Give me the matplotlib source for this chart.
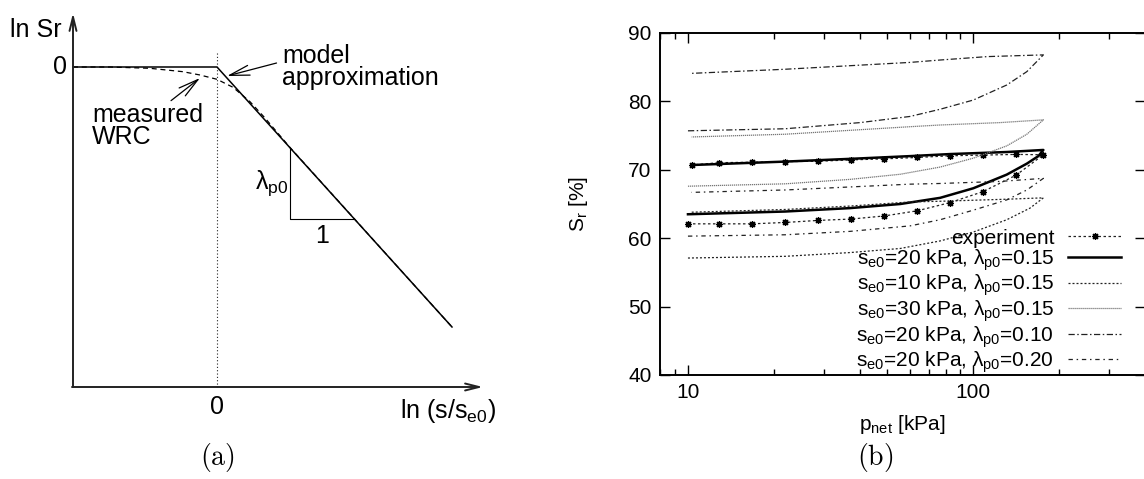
import numpy as np
import matplotlib
matplotlib.use("Agg")
import matplotlib.pyplot as plt

plt.rcParams['font.family'] = ['Liberation Sans', 'DejaVu Sans']
plt.rcParams['mathtext.fontset'] = 'custom'
plt.rcParams['mathtext.rm'] = 'Liberation Sans'
plt.rcParams['mathtext.it'] = 'Liberation Sans'
plt.rcParams['mathtext.bf'] = 'Liberation Sans:bold'
plt.rcParams['mathtext.default'] = 'rm'

# ---- panel (a): schematic, units: x = ln(s/se0), y = ln Sr ----
model_x = [-1.44, 0.0, 2.35]
model_y = [0.0, 0.0, -2.6]
wrc_x = [-1.44, -1.07, -0.67, -0.34, -0.17, 0.0, 0.16, 0.33, 0.48, 0.73, 1.33, 2.35]
wrc_y = [0.0, 0.0, -0.013, -0.047, -0.08, -0.123, -0.203, -0.347, -0.51, -0.805, -1.47, -2.6]
tri_x = [0.73, 0.73, 1.36]
tri_y = [-0.81, -1.52, -1.52]
axis_x0 = -1.44
axis_y0 = -3.2

# ---- panel (b): Sr vs p_net (loading branch, then back) ----
p_exp = [10, 12.85, 16.8, 21.9, 28.6, 37.3, 48.7, 63.5, 82.8, 108, 141, 176,
         141, 108, 82.8, 63.5, 48.7, 37.3, 28.6, 21.9, 16.8, 12.85, 10.3]
sr_exp = [62.1, 62.1, 62.1, 62.3, 62.6, 62.8, 63.25, 64.0, 65.2, 66.8, 69.2, 72.2,
          72.25, 72.15, 72.05, 71.8, 71.6, 71.45, 71.25, 71.2, 71.1, 71.04, 70.7]

p_s20_l15 = [10, 21.9, 37, 55.5, 76.5, 100, 131, 154, 169, 176, 131, 82.8, 60, 37, 21.9, 10.3]
sr_s20_l15 = [63.5, 63.9, 64.4, 65.0, 65.9, 67.3, 69.3, 70.9, 72.0, 72.9,
              72.6, 72.3, 72.0, 71.6, 71.2, 70.7]

p_s10_l15 = [10, 21.9, 37, 55.5, 76.5, 100, 131, 158, 176, 131, 76.5, 60, 37, 21.9, 10.3]
sr_s10_l15 = [57.1, 57.35, 57.9, 58.5, 59.6, 60.9, 62.7, 64.4, 65.9,
              65.7, 65.4, 65.3, 64.7, 64.2, 63.8]

p_s30_l15 = [10, 21.9, 37, 55.5, 76.5, 100, 131, 154, 176, 124, 76.5, 60, 21.9, 10.3]
sr_s30_l15 = [67.6, 67.95, 68.6, 69.35, 70.4, 71.7, 73.5, 75.2, 77.3,
              76.9, 76.55, 76.3, 75.2, 74.8]

p_s20_l10 = [10, 21.9, 40.1, 60, 76.5, 100, 131, 154, 176, 112, 76.5, 60, 21.9, 10.3]
sr_s20_l10 = [75.7, 76.0, 76.9, 77.8, 78.85, 80.2, 82.4, 84.35, 86.8,
              86.55, 86.05, 85.7, 84.7, 84.1]

p_s20_l20 = [10, 21.9, 37, 60, 76.5, 100, 131, 154, 176, 124, 76.5, 60, 21.9, 10.3]
sr_s20_l20 = [60.3, 60.5, 61.0, 61.8, 62.7, 64.1, 65.6, 67.05, 68.75,
              68.3, 68.0, 67.9, 67.05, 66.7]

labels = ['experiment',
          r'$s_{e0}$=20 kPa, $\lambda_{p0}$=0.15',
          r'$s_{e0}$=10 kPa, $\lambda_{p0}$=0.15',
          r'$s_{e0}$=30 kPa, $\lambda_{p0}$=0.15',
          r'$s_{e0}$=20 kPa, $\lambda_{p0}$=0.10',
          r'$s_{e0}$=20 kPa, $\lambda_{p0}$=0.20']
yticks = [40, 50, 60, 70, 80, 90]

W, H = 1144, 479
fig = plt.figure(figsize=(W / 100, H / 100), dpi=100)

# panel (a)
axa = fig.add_axes([0, 0, 0.45, 1])
axa.set_xlim(-2.17, -2.17 + 0.45 * W / 100)
axa.set_ylim(-(H - 67) / 100, 0.67)
axa.axis('off')

arrow = dict(arrowstyle='->,head_length=1.0,head_width=0.25', color='#222', lw=1.4,
             shrinkA=0, shrinkB=0)
axa.annotate('', xy=(axis_x0, 0.54), xytext=(axis_x0, axis_y0), arrowprops=arrow)
axa.annotate('', xy=(2.66, axis_y0), xytext=(axis_x0 - 0.01, axis_y0), arrowprops=arrow)
axa.plot([0, 0], [0.14, axis_y0], color='#222', lw=0.8, ls=(0, (1, 2)))
axa.plot(model_x, model_y, color='black', lw=1.1)
axa.plot(wrc_x, wrc_y, color='black', lw=0.9, ls=(0, (4, 3)))
axa.plot(tri_x, tri_y, color='black', lw=0.8)

fs_a = 18
axa.text(-1.55, 0.37, 'ln Sr', fontsize=fs_a, ha='right', va='center')
axa.text(-1.5, 0.0, '0', fontsize=fs_a, ha='right', va='center')
axa.text(0, -3.4, '0', fontsize=fs_a, ha='center', va='center')
axa.text(1.83, -3.44, r'ln (s/s$_{e0}$)', fontsize=fs_a, ha='left', va='center')
axa.text(0.71, -1.16, r'$\lambda_{p0}$', fontsize=fs_a, ha='right', va='center')
axa.text(1.05, -1.69, '1', fontsize=fs_a, ha='center', va='center')
axa.annotate('model\napproximation', xy=(0.1, -0.09), xytext=(0.65, 0.0),
             fontsize=fs_a, ha='left', va='center', linespacing=0.85,
             arrowprops=dict(arrowstyle='->,head_length=0.8,head_width=0.2', color='black',
                             lw=0.9, shrinkA=2, shrinkB=0, relpos=(0, 0.62)))
axa.annotate('measured\nWRC', xy=(-0.17, -0.11), xytext=(-1.25, -0.59),
             fontsize=fs_a, ha='left', va='center', linespacing=0.85,
             arrowprops=dict(arrowstyle='->,head_length=0.8,head_width=0.2', color='black',
                             lw=0.9, shrinkA=0, shrinkB=0, relpos=(0.68, 1.0)))
axa.text(0, -3.91, r'$(\mathrm{a})$', fontsize=20, ha='center', va='center',
         math_fontfamily='cm')

# panel (b)
left, right, top, bottom = 660, 1144.5, 33, 375
axb = fig.add_axes([left / W, 1 - bottom / H, (right - left) / W, (bottom - top) / H])
axb.set_xscale('log')

axb.plot(p_exp, sr_exp, color='#222', lw=0.9, ls=(0, (2, 2)), marker=(8, 2, 0),
         markersize=5, markeredgewidth=0.9, markeredgecolor='black', label=labels[0])
axb.plot(p_s20_l15, sr_s20_l15, color='black', lw=1.8, label=labels[1])
axb.plot(p_s10_l15, sr_s10_l15, color='#222', lw=0.9, ls=(0, (1.6, 1.6)), label=labels[2])
axb.plot(p_s30_l15, sr_s30_l15, color='#777', lw=0.9, ls=(0, (1, 0.6)), label=labels[3])
axb.plot(p_s20_l10, sr_s20_l10, color='#222', lw=0.9, ls=(0, (5, 2, 1.2, 2)), label=labels[4])
axb.plot(p_s20_l20, sr_s20_l20, color='#222', lw=0.9, ls=(0, (3.5, 3, 1.2, 3)), label=labels[5])

fs_b = 15
axb.set_xlim(7.98, 398)
axb.set_ylim(40, 90)
axb.set_yticks(yticks)
axb.set_xticks([10, 100])
axb.set_xticklabels(['10', '100'])
axb.tick_params(which='both', direction='in', top=True, right=True, labelsize=fs_b,
                width=1.0, pad=6)
axb.tick_params(which='major', length=7)
axb.tick_params(which='minor', length=4)
for s in axb.spines.values():
    s.set_linewidth(1.4)

axb.set_ylabel(r'$S_r$ [%]', fontsize=fs_b)
axb.yaxis.set_label_coords(-0.145, 0.5)
axb.set_xlabel(r'$p_{net}$ [kPa]', fontsize=fs_b, labelpad=8)

leg = axb.legend(loc='lower right', bbox_to_anchor=(0.952, 0.0), frameon=False,
                 markerfirst=False, fontsize=fs_b, numpoints=1, handlelength=2.55,
                 handletextpad=0.67, labelspacing=0.0, borderpad=0.0, borderaxespad=0.0)

fig.text(875 / W, 1 - 458 / H, r'$(\mathrm{b})$', fontsize=20, ha='center', va='center',
         math_fontfamily='cm')

fig.savefig('out.png', dpi=100)
